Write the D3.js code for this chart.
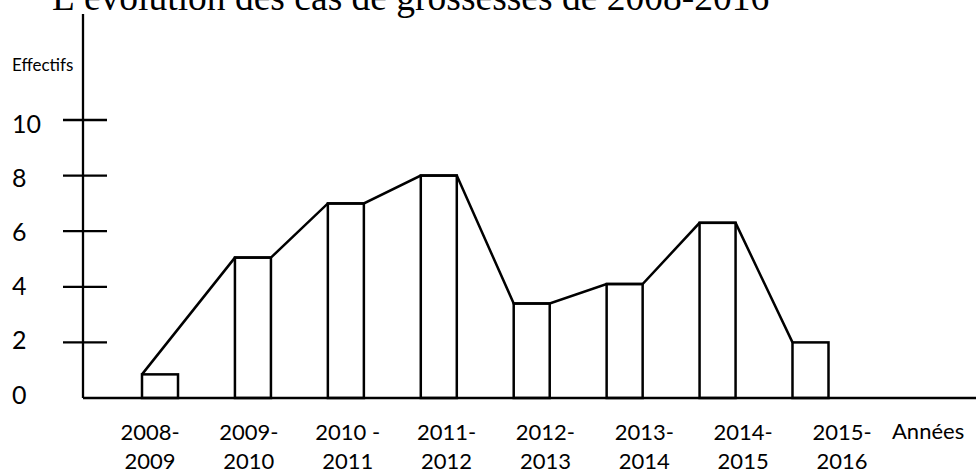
<!DOCTYPE html>
<html>
<head>
<meta charset="utf-8">
<script src="https://cdn.jsdelivr.net/npm/d3@7"></script>
<style>
  html, body { margin: 0; padding: 0; background: #fff; }
  svg { display: block; }
</style>
</head>
<body>
<svg id="chart" width="976" height="474"></svg>
<script>
// ---- data ----
const title = "L’évolution des cas de grossesses de 2008-2016";
const categories = ["2008-2009", "2009-2010", "2010-2011", "2011-2012", "2012-2013", "2013-2014", "2014-2015", "2015-2016"];
const labelTop = ["2008-", "2009-", "2010 -", "2011-", "2012-", "2013-", "2014-", "2015-"];
const labelBottom = ["2009", "2010", "2011", "2012", "2013", "2014", "2015", "2016"];
const values = [0.85, 5.05, 7, 8, 3.4, 4.1, 6.3, 2];
const yTicks = [0, 2, 4, 6, 8, 10];
const yTitle = "Effectifs";
const xTitle = "Années";

// ---- drawing ----
const svg = d3.select("#chart");
const sans = "Lato, 'Open Sans', sans-serif";

const x = d3.scaleBand().domain(categories).range([142, 828.5]).paddingInner(0.6125).paddingOuter(0);
const xl = d3.scalePoint().domain(categories).range([150, 842]);
const y = d3.scaleLinear().domain([0, 10]).range([398, 120]);
const yl = d3.scaleLinear().domain([0, 10]).range([393.5, 123]);

// title (partially cut at top)
svg.append("text")
  .attr("x", 52).attr("y", 10)
  .attr("font-family", "'Liberation Serif', 'Times New Roman', serif")
  .attr("font-size", 37.5)
  .attr("fill", "#000")
  .text(title);

// y axis line
svg.append("line")
  .attr("x1", 83).attr("x2", 83)
  .attr("y1", 14).attr("y2", y(0))
  .attr("stroke", "#000").attr("stroke-width", 2.3);

// x axis line
svg.append("line")
  .attr("x1", 83).attr("x2", 976)
  .attr("y1", y(0)).attr("y2", y(0))
  .attr("stroke", "#000").attr("stroke-width", 2.3);

// y ticks (crossing the axis), except 0
svg.selectAll("line.tick").data(yTicks.filter(d => d > 0)).enter()
  .append("line").attr("class", "tick")
  .attr("x1", 63).attr("x2", 107)
  .attr("y1", d => y(d)).attr("y2", d => y(d))
  .attr("stroke", "#000").attr("stroke-width", 2.3);

svg.selectAll("text.ytl").data(yTicks).enter()
  .append("text").attr("class", "ytl")
  .attr("x", 12).attr("y", d => yl(d))
  .attr("dominant-baseline", "central")
  .attr("font-family", sans).attr("font-size", 25)
  .attr("fill", "#000")
  .text(d => d);

svg.append("text")
  .attr("x", 12).attr("y", 70.5)
  .attr("font-family", sans).attr("font-size", 17)
  .attr("fill", "#000")
  .text(yTitle);

// bars
svg.selectAll("rect.bar").data(values).enter()
  .append("rect").attr("class", "bar")
  .attr("x", (d, i) => x(categories[i]))
  .attr("y", d => y(d))
  .attr("width", x.bandwidth())
  .attr("height", d => y(0) - y(d))
  .attr("fill", "none")
  .attr("stroke", "#000").attr("stroke-width", 2.5);

// connecting polyline
const pts = [[x(categories[0]), y(values[0])]];
for (let i = 1; i < values.length; i++) {
  pts.push([x(categories[i]), y(values[i])]);
  if (i < values.length - 1) pts.push([x(categories[i]) + x.bandwidth(), y(values[i])]);
}
svg.append("path")
  .attr("d", d3.line()(pts))
  .attr("fill", "none")
  .attr("stroke", "#000").attr("stroke-width", 2.5)
  .attr("stroke-linejoin", "miter");

// x labels
const lab = svg.selectAll("g.xl").data(categories).enter()
  .append("g").attr("class", "xl");
lab.append("text")
  .attr("x", d => xl(d)).attr("y", 440)
  .attr("text-anchor", "middle")
  .attr("font-family", sans).attr("font-size", 22)
  .attr("fill", "#000")
  .text((d, i) => labelTop[i]);
lab.append("text")
  .attr("x", d => xl(d)).attr("y", 469)
  .attr("text-anchor", "middle")
  .attr("font-family", sans).attr("font-size", 22)
  .attr("fill", "#000")
  .text((d, i) => labelBottom[i]);

svg.append("text")
  .attr("x", 892).attr("y", 439)
  .attr("font-family", sans).attr("font-size", 22)
  .attr("fill", "#000")
  .text(xTitle);
</script>
</body>
</html>
